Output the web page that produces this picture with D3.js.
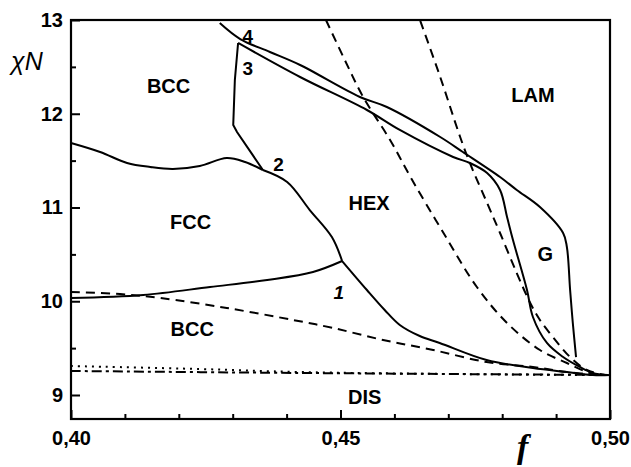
<!DOCTYPE html>
<html>
<head>
<meta charset="utf-8">
<script src="https://cdn.jsdelivr.net/npm/d3@7"></script>
<style>
  body { margin: 0; background: #fff; }
  svg { display: block; font-family: "Liberation Sans", Arial, sans-serif; }
  .tick text { font-size: 20px; font-weight: bold; fill: #000; }
  .tick line { stroke: #000; stroke-width: 2; }
  .region { font-size: 20px; font-weight: bold; text-anchor: middle; }
  .num { font-size: 19px; font-weight: bold; text-anchor: middle; }
</style>
</head>
<body>
<svg id="chart" width="631" height="467"></svg>
<script>
// phase boundaries, [f, chiN]
const fccBccUpper = [[0.4, 11.688], [0.4054, 11.592], [0.4104, 11.475], [0.4147, 11.432], [0.4189, 11.411],
  [0.4239, 11.443], [0.4289, 11.528], [0.4323, 11.485], [0.4356, 11.40]];
const fccHex = [[0.4356, 11.40], [0.4401, 11.272], [0.4443, 10.973], [0.4484, 10.685], [0.4503, 10.429]];
const fccBccLower = [[0.4, 10.035], [0.4134, 10.067], [0.4258, 10.152], [0.4364, 10.227], [0.4449, 10.312], [0.4503, 10.429]];
const hexBcc = [[0.4503, 10.429], [0.4549, 10.12], [0.4582, 9.907], [0.461, 9.747], [0.4647, 9.629], [0.4684, 9.555],
  [0.4771, 9.373], [0.4857, 9.288], [0.492, 9.245], [0.4968, 9.213], [0.5, 9.213]];
const bccHex = [[0.4356, 11.40], [0.4308, 11.805], [0.4301, 11.88], [0.4304, 12.36], [0.431, 12.755]];
const line3 = [[0.431, 12.755], [0.4425, 12.392], [0.4549, 12.04], [0.461, 11.827], [0.4709, 11.539], [0.474, 11.475],
  [0.4772, 11.368], [0.4796, 11.187], [0.4809, 10.899], [0.482, 10.653], [0.4846, 10.12], [0.4857, 9.832],
  [0.4883, 9.555], [0.4913, 9.405], [0.4944, 9.299], [0.4968, 9.235], [0.4996, 9.213]];
const line4 = [[0.4276, 12.968], [0.4314, 12.797], [0.4369, 12.659], [0.4425, 12.52], [0.4536, 12.179], [0.4586, 12.072],
  [0.4685, 11.752], [0.4727, 11.592], [0.4796, 11.325], [0.4827, 11.187], [0.487, 11.005], [0.4913, 10.728],
  [0.492, 10.579], [0.4926, 10.12], [0.4931, 9.768], [0.4937, 9.405]];
// dashed / dotted curves
const dashBcc = [[0.4, 10.099], [0.4091, 10.077], [0.4165, 10.035], [0.4289, 9.928], [0.4412, 9.80], [0.4486, 9.715],
  [0.4579, 9.587], [0.4672, 9.48], [0.4771, 9.352], [0.4857, 9.299], [0.492, 9.245], [0.4981, 9.213]];
const dashA = [[0.4473, 13.0], [0.4508, 12.573], [0.4542, 12.179], [0.4592, 11.72], [0.4633, 11.293], [0.469, 10.739],
  [0.4753, 10.152], [0.4809, 9.768], [0.487, 9.48], [0.492, 9.341], [0.4963, 9.235], [0.4994, 9.213]];
const dashB = [[0.4648, 12.99], [0.4685, 12.392], [0.4722, 11.752], [0.474, 11.475], [0.4772, 11.048], [0.4796, 10.728],
  [0.4827, 10.301], [0.4852, 9.981], [0.4870, 9.80], [0.4894, 9.619], [0.4926, 9.405], [0.4957, 9.267], [0.499, 9.213]];
const dotted = [[0.4, 9.309], [0.4239, 9.277], [0.4425, 9.245], [0.4703, 9.224], [0.4981, 9.213]];
const dashDot = [[0.4, 9.256], [0.4425, 9.235], [0.4703, 9.224], [0.5, 9.213]];

const xMajor = [0.40, 0.45, 0.50];
const xMinor = [0.41, 0.42, 0.43, 0.44, 0.46, 0.47, 0.48, 0.49];
const yMajor = [9, 10, 11, 12, 13];
const yMinor = [9.5, 10.5, 11.5, 12.5];

const regions = [
  { t: "BCC", f: 0.4181, v: 12.3 },
  { t: "FCC", f: 0.4222, v: 10.85 },
  { t: "HEX", f: 0.4553, v: 11.05 },
  { t: "LAM", f: 0.4857, v: 12.2 },
  { t: "G", f: 0.4880, v: 10.5 },
  { t: "BCC", f: 0.4225, v: 9.7 },
  { t: "DIS", f: 0.4545, v: 8.98 }
];
const numbers = [
  { t: "4", f: 0.4328, v: 12.83 },
  { t: "3", f: 0.4328, v: 12.48 },
  { t: "2", f: 0.4385, v: 11.46 },
  { t: "1", f: 0.4497, v: 10.1, italic: true }
];

const svg = d3.select('#chart');
const margin = { top: 20, left: 71 }
    , width = 539
    , height = 399;

const x = d3.scaleLinear().domain([0.40, 0.50]).range([0, width]);
const y = d3.scaleLinear().domain([8.744, 13]).range([height, 0]);

const g = svg.append('g')
    .attr('transform', 'translate(' + margin.left + ',' + margin.top + ')');

const locale = d3.formatLocale({ decimal: ',', thousands: '.', grouping: [3], currency: ['', ''] });
const fmt = locale.format('.2f');

// axes, ticks pointing inwards
const xAxis = g.append('g')
    .attr('transform', 'translate(0,' + height + ')')
    .call(d3.axisBottom(x).tickValues(xMajor).tickSize(-9).tickPadding(12).tickFormat(fmt));
xAxis.select('.domain').remove();
const xAxisMinor = g.append('g')
    .attr('transform', 'translate(0,' + height + ')')
    .call(d3.axisBottom(x).tickValues(xMinor).tickSize(-5).tickFormat(''));
xAxisMinor.select('.domain').remove();

const yAxis = g.append('g')
    .call(d3.axisLeft(y).tickValues(yMajor).tickSize(-9).tickPadding(8).tickFormat(d3.format('d')));
yAxis.select('.domain').remove();
const yAxisMinor = g.append('g')
    .call(d3.axisLeft(y).tickValues(yMinor).tickSize(-5).tickFormat(''));
yAxisMinor.select('.domain').remove();

g.append('rect')
    .attr('width', width)
    .attr('height', height)
    .attr('fill', 'none')
    .attr('stroke', '#000')
    .attr('stroke-width', 2.2);

const lineFree = d3.line()
    .x(d => x(d[0]))
    .y(d => y(d[1]))
    .curve(d3.curveCatmullRom.alpha(0.5));

const plot = g.append('g');
const draw = (data, gen, dash) => plot.append('path')
    .datum(data)
    .attr('d', gen)
    .attr('fill', 'none')
    .attr('stroke', '#000')
    .attr('stroke-width', 2)
    .attr('stroke-dasharray', dash || null);

draw(fccBccUpper, lineFree);
draw(fccHex, lineFree);
draw(fccBccLower, lineFree);
draw(hexBcc, lineFree);
draw(bccHex, d3.line().x(d => x(d[0])).y(d => y(d[1])));
draw(line3, lineFree);
draw(line4, lineFree);
draw(dashBcc, lineFree, '9,6');
draw(dashA, lineFree, '9,6');
draw(dashB, lineFree, '9,6');
draw(dotted, lineFree, '2,5');
draw(dashDot, lineFree, '10,4,3,4');

g.selectAll('.region')
    .data(regions)
    .enter().append('text')
    .attr('class', 'region')
    .attr('x', d => x(d.f))
    .attr('y', d => y(d.v))
    .attr('dy', '0.35em')
    .text(d => d.t);

g.selectAll('.num')
    .data(numbers)
    .enter().append('text')
    .attr('class', 'num')
    .attr('x', d => x(d.f))
    .attr('y', d => y(d.v))
    .attr('dy', '0.35em')
    .attr('font-style', d => d.italic ? 'italic' : null)
    .text(d => d.t);

// axis titles
svg.append('text')
    .attr('x', 11)
    .attr('y', 70)
    .attr('font-size', 25)
    .attr('font-style', 'italic')
    .text('χN');
svg.append('text')
    .attr('x', 517)
    .attr('y', 458)
    .attr('font-family', '"Liberation Serif", "Times New Roman", serif')
    .attr('font-size', 34)
    .attr('font-style', 'italic')
    .attr('font-weight', 'bold')
    .text('f');
</script>
</body>
</html>
